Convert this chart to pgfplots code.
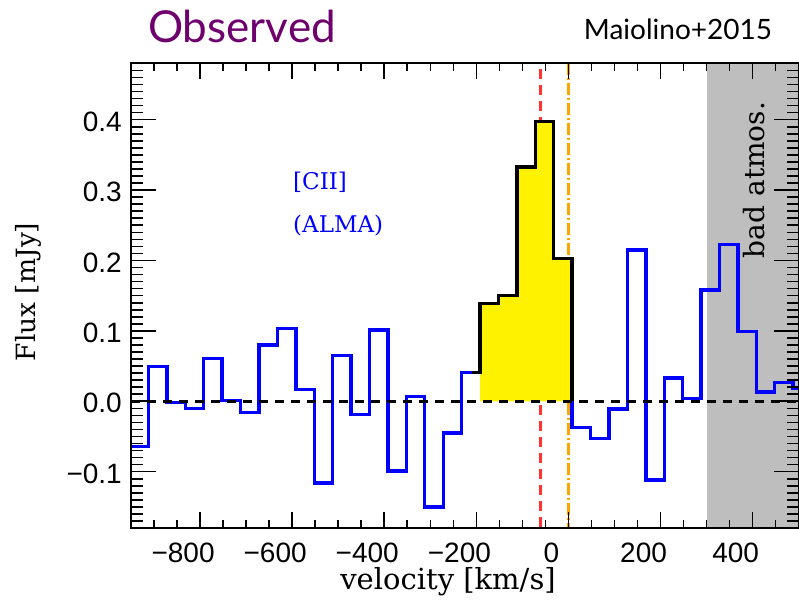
\documentclass[border=0pt]{standalone}
\usepackage{fontspec}
\setmainfont{DejaVu Serif}
\newfontfamily\ticksf{Liberation Sans}
\newfontfamily\slidesf{Lato}
\usepackage{pgfplots}
\pgfplotsset{compat=1.18}

\definecolor{obspurple}{RGB}{110,0,110}
\definecolor{atmgray}{RGB}{190,190,190}
\definecolor{specblue}{RGB}{0,0,255}
\definecolor{lyaorange}{RGB}{255,165,0}
\definecolor{ciired}{RGB}{255,50,50}

% shared geometry of the spectrum panel (1pt = 1px of the figure)
\pgfplotsset{
  specaxis/.style={
    scale only axis, width=667.7pt, height=464.64pt,
    xmin=-950, xmax=500, ymin=-0.18, ymax=0.48,
    at={(131pt,77pt)}, anchor=south west,
    axis line style={line width=1.8pt, black},
    tick style={line width=1.6pt, black},
    tick align=inside, tick pos=both,
  }
}

\begin{document}
\begin{tikzpicture}
\useasboundingbox (0,0) rectangle (799pt,605pt);

% data panel, carrying the flux ticks
\begin{axis}[specaxis, axis on top,
  xtick=\empty,
  ytick={-0.1,0,0.1,0.2,0.3,0.4},
  yticklabels={−0.1,0.0,0.1,0.2,0.3,0.4},
  minor ytick={-0.18,-0.17,...,0.48},
  major tick length=25pt, minor tick length=12pt,
  yticklabel style={font=\ticksf\fontsize{28}{30}\selectfont,
    inner sep=0pt, anchor=east, xshift=-9pt, yshift=-2pt},
]
  % band affected by atmospheric transmission
  \addplot[fill=atmgray, draw=none] coordinates
    {(300,-0.18) (500,-0.18) (500,0.48) (300,0.48)};

  % reference velocities
  \addplot[ciired, line width=3pt, dash pattern=on 10pt off 6pt]
    coordinates {(-60,0.472) (-60,-0.18)};
  \addplot[lyaorange, line width=2.6pt,
    dash pattern=on 12pt off 3pt on 2pt off 3pt]
    coordinates {(0,0.48) (0,-0.18)};

  % [CII] spectrum, 40 km/s channels (left edges)
  \addplot[specblue, line width=3.4pt, const plot, line join=miter] coordinates {
    (-950,-0.064) (-912,0.049) (-872,-0.002) (-832,-0.010) (-792,0.061)
    (-752,0.001) (-712,-0.016) (-672,0.080) (-632,0.103) (-592,0.017)
    (-552,-0.116) (-512,0.065) (-472,-0.019) (-432,0.101) (-392,-0.099)
    (-352,0.007) (-312,-0.150) (-272,-0.045) (-232,0.041) (-192,0.139)
    (-152,0.150) (-112,0.333) (-72,0.397) (-32,0.203) (8,-0.037)
    (48,-0.053) (88,-0.011) (128,0.215) (168,-0.112) (208,0.033)
    (248,0.004) (288,0.158) (328,0.223) (368,0.099) (408,0.013)
    (448,0.027) (488,0.019) (500,0.019)};

  % channels integrated for the line map
  \addplot[fill=yellow, draw=none] coordinates {
    (-192,0) (-192,0.139) (-152,0.139) (-152,0.150) (-112,0.150)
    (-112,0.333) (-72,0.333) (-72,0.397) (-32,0.397) (-32,0.203)
    (8,0.203) (8,0)};
  \addplot[black, line width=3.4pt, const plot, line join=miter] coordinates {
    (-210,0.041) (-192,0.139) (-152,0.150) (-112,0.333) (-72,0.397)
    (-32,0.203) (8,0)};

  % zero level
  \addplot[black, line width=2.6pt, dash pattern=on 9pt off 7pt]
    coordinates {(-950,0) (500,0)};
\end{axis}

% velocity ticks
\begin{axis}[specaxis,
  ytick=\empty,
  xtick={-800,-600,-400,-200,0,200,400},
  xticklabels={−800,−600,−400,−200,0,200,400},
  minor xtick={-950,-900,...,500},
  major tick length=16pt, minor tick length=8pt,
  xticklabel style={font=\ticksf\fontsize{28}{30}\selectfont,
    inner sep=0pt, anchor=north, xshift=-17pt, yshift=-15pt},
]
\end{axis}

% labels and annotations
\node[font=\fontsize{29}{32}\selectfont, inner sep=0pt] at (448pt,23pt) {velocity [km/s]};
\node[font=\fontsize{26.5}{30}\selectfont, inner sep=0pt, rotate=90] at (28pt,313pt) {Flux [mJy]};
\node[font=\fontsize{28}{30}\selectfont, inner sep=0pt, rotate=90] at (754pt,425pt) {bad atmos.};
\node[font=\fontsize{23}{26}\selectfont, text=specblue, inner sep=0pt, anchor=west] at (293pt,423pt) {[CII]};
\node[font=\fontsize{23}{26}\selectfont, text=specblue, inner sep=0pt, anchor=west] at (293pt,379pt) {(ALMA)};
\node[font=\slidesf\fontsize{44}{46}\selectfont, text=obspurple, inner sep=0pt] at (242pt,579pt) {Observed};
\node[font=\slidesf\fontsize{28}{30}\selectfont, inner sep=0pt] at (678pt,576pt) {Maiolino+2015};
\end{tikzpicture}
\end{document}
